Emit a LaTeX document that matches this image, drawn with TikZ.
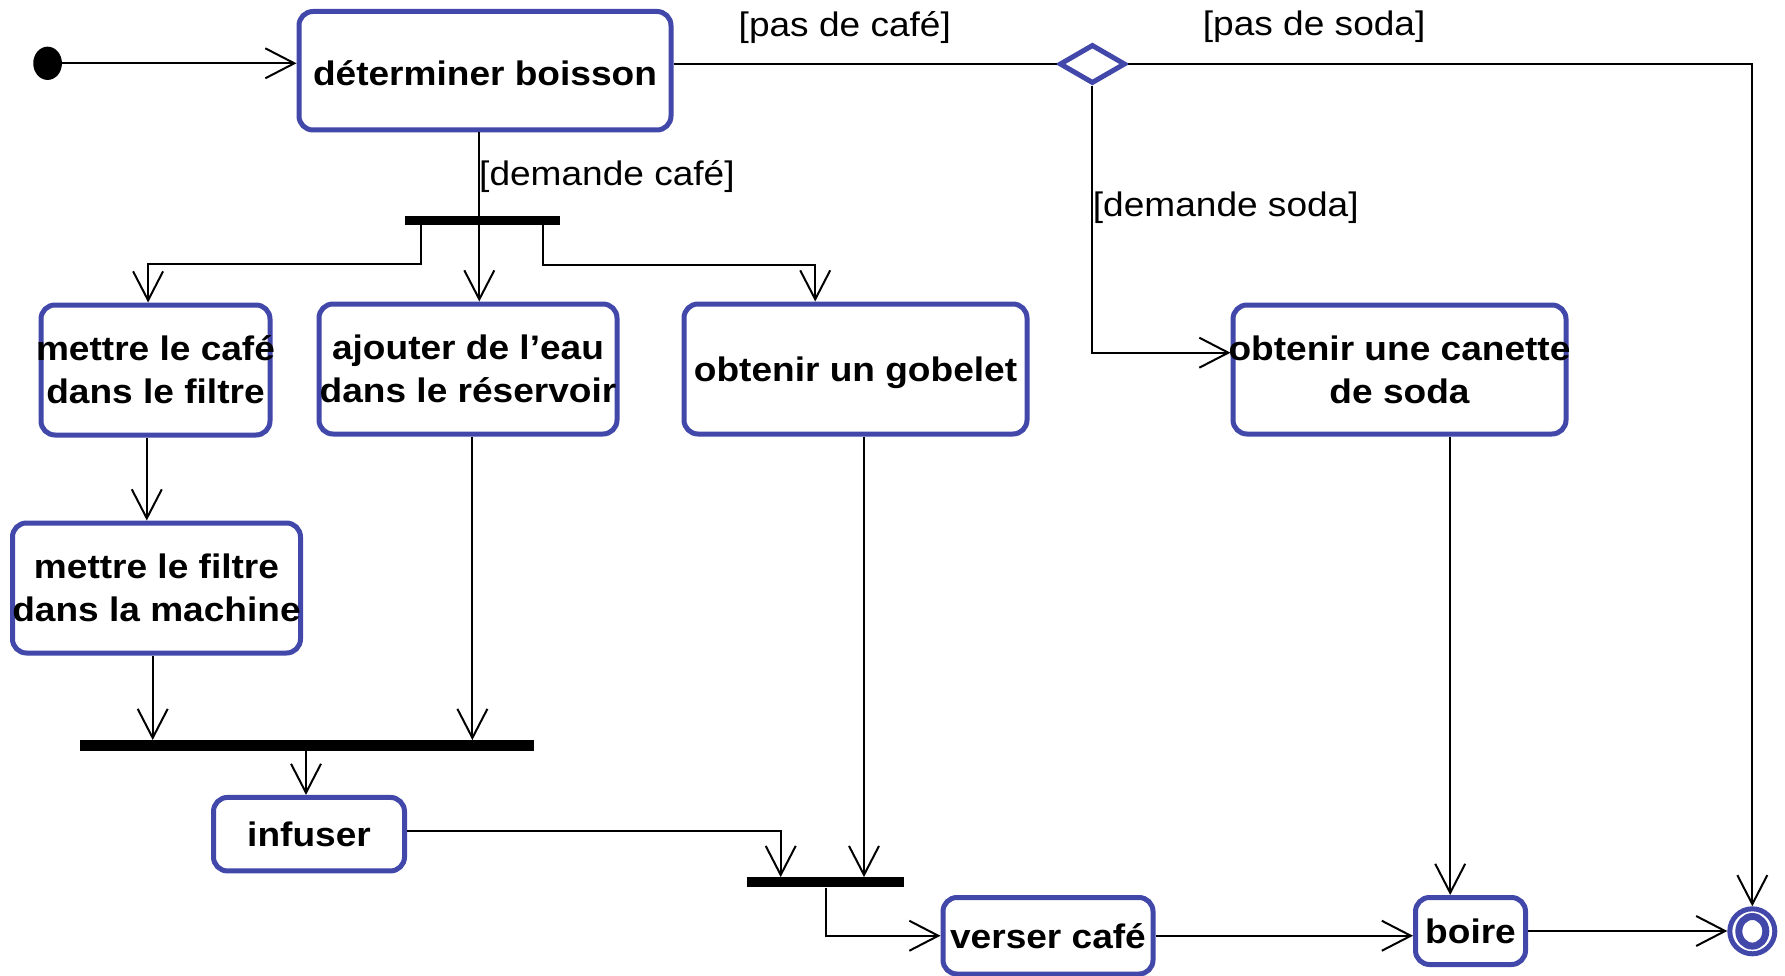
\documentclass[tikz,border=0pt]{standalone}
\usepackage{fontspec}
\setmainfont{Liberation Sans}[FakeStretch=1.09]
\usetikzlibrary{arrows.meta,shapes.geometric}
\definecolor{umlblue}{RGB}{66,72,170}
\begin{document}
\begin{tikzpicture}[x=1pt,y=-1pt,
  act/.style={draw=umlblue, line width=5pt, rounded corners=14pt, rectangle, inner sep=0pt, align=center, fill=white, font=\fontsize{34}{43}\selectfont\bfseries},
  guard/.style={inner sep=0pt, anchor=west, font=\fontsize{34}{43}\selectfont},
  syncbar/.style={fill=black, inner sep=0pt, rectangle},
  ln/.style={line width=2pt},
  arr/.style={line width=2pt, -{Straight Barb[length=29pt,width=30pt,line width=2pt]}},
]
\fill[white] (0,0) rectangle (1785,976);
\useasboundingbox (0,0) rectangle (1785,976);

% start and end
\node[ellipse, fill=black, minimum width=28.7pt, minimum height=33.3pt, inner sep=0pt] (ini) at (47.6,63.3) {};
\node[circle, draw=umlblue, line width=5pt, fill=white, minimum size=45pt, inner sep=0pt] (fin) at (1752.3,931.3) {};
\draw[umlblue, line width=7pt] (fin.center) ellipse [x radius=13.5pt, y radius=14.8pt];

% decision
\node[diamond, draw=umlblue, line width=5pt, fill=white, minimum width=66pt, minimum height=39pt, inner sep=0pt] (dia) at (1092.4,64) {};

% activities
\node[act, minimum width=372pt, minimum height=118.5pt, text height=30pt] (det) at (485,70.75) {déterminer boisson};
\node[act, minimum width=229pt, minimum height=130pt] (caf) at (155.5,370) {\makebox[0pt]{mettre le café}\\\makebox[0pt]{dans le filtre}};
\node[act, minimum width=298pt, minimum height=130pt] (aj) at (468,369) {\makebox[0pt]{ajouter de l’eau}\\\makebox[0pt]{dans le réservoir}};
\node[act, minimum width=343pt, minimum height=130pt, text depth=0pt] (gob) at (855.5,369) {obtenir un gobelet};
\node[act, minimum width=333pt, minimum height=129pt] (can) at (1399.5,369.5) {\makebox[0pt]{obtenir une canette}\\\makebox[0pt]{de soda}};
\node[act, minimum width=288pt, minimum height=130pt] (fil) at (156.5,588) {\makebox[0pt]{mettre le filtre}\\\makebox[0pt]{dans la machine}};
\node[act, minimum width=191pt, minimum height=73.5pt] (inf) at (309,834.2) {infuser};
\node[act, minimum width=210pt, minimum height=76.5pt] (ver) at (1048,935.75) {verser café};
\node[act, minimum width=110pt, minimum height=67pt] (boi) at (1470.5,931) {boire};

% synchronisation bars
\node[syncbar, minimum width=155pt, minimum height=9.5pt] (f1) at (482.2,220.5) {};
\node[syncbar, minimum width=453.5pt, minimum height=10.5pt] (b2) at (307.2,745.5) {};
\node[syncbar, minimum width=156.6pt, minimum height=10pt] (b3) at (825.7,882.3) {};

% guards
\node[guard] (g1) at (738.5,27.5) {[pas de café]};
\node[guard] (g2) at (1202.7,26.5) {[pas de soda]};
\node[guard] (g3) at (479,176.5) {[demande café]};
\node[guard] (g4) at (1092.7,207.5) {[demande soda]};

% bend points
\coordinate (k1) at (1092.4,352.7);
\coordinate (j1) at (420.8,264.5);
\coordinate (j2) at (148.1,264.5);
\coordinate (j3) at (543,265);
\coordinate (j4) at (815.2,265);
\coordinate (j5) at (780.7,830.7);

% connectors
\draw[arr] (ini) -- (ini -| det.west);
\draw[ln] (det.east |- dia.west) -- (dia.west);
\draw[arr] (dia.east) -| (fin.north);
\draw[arr] (dia.south) -- (k1) -- (k1 -| can.west);

\draw[ln] ([xshift=-5.7pt]det.south) -- ([xshift=-5.7pt]det.south |- f1.north);
\draw[arr] ([xshift=-2.9pt]f1.south) -- ([xshift=-2.9pt]f1.south |- aj.north);
\draw[arr] (f1.south -| j1) -- (j1) -- (j2) -- (j2 |- caf.north);
\draw[arr] (f1.south -| j3) -- (j3) -- (j4) -- (j4 |- gob.north);

\draw[arr] ([xshift=-8.7pt]caf.south) -- ([xshift=-8.7pt]caf.south |- fil.north);
\draw[arr] ([xshift=-3.8pt]fil.south) -- ([xshift=-3.8pt]fil.south |- b2.north);
\draw[arr] ([xshift=4.4pt]aj.south) -- ([xshift=4.4pt]aj.south |- b2.north);
\draw[arr] ([xshift=-1.2pt]b2.south) -- ([xshift=-1.2pt]b2.south |- inf.north);

\draw[arr] (inf.east |- j5) -- (j5) -- (j5 |- b3.north);
\draw[arr] ([xshift=8.5pt]gob.south) -- ([xshift=8.5pt]gob.south |- b3.north);
\draw[arr] (b3.south) |- (ver.west);
\draw[arr] (ver.east) -- (ver.east -| boi.west);
\draw[arr] ([xshift=50.7pt]can.south) -- ([xshift=50.7pt]can.south |- boi.north);
\draw[arr] (boi.east) -- (boi.east -| fin.west);
\end{tikzpicture}
\end{document}
